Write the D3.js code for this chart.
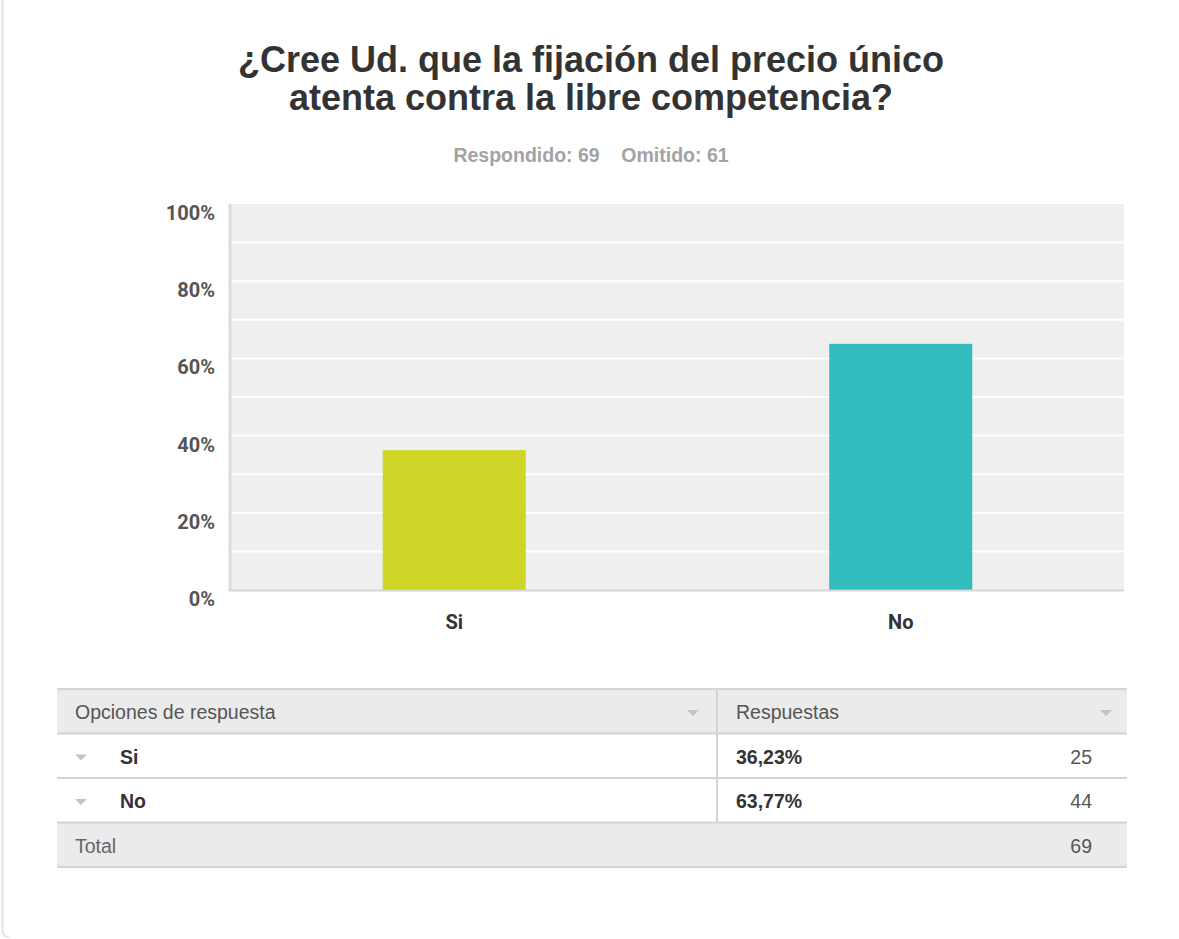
<!DOCTYPE html>
<html>
<head>
<meta charset="utf-8">
<script src="https://cdn.jsdelivr.net/npm/d3@7"></script>
<style>
  html, body { margin: 0; padding: 0; background: #fff; }
  svg { display: block; font-family: "Liberation Sans", Arial, sans-serif; }
</style>
</head>
<body>
<svg id="chart" width="1179" height="939"></svg>
<script>
const titleLines = ["¿Cree Ud. que la fijación del precio único", "atenta contra la libre competencia?"];
const answered = 69;
const skipped = 61;
const categories = ["Si", "No"];
const percents = [36.23, 63.77];
const counts = [25, 44];
const percentLabels = ["36,23%", "63,77%"];
const barColors = ["#cfd527", "#33bcbd"];
const yTicks = [0, 20, 40, 60, 80, 100];
const gridValues = [10, 20, 30, 40, 50, 60, 70, 80, 90];
const tableHeaders = ["Opciones de respuesta", "Respuestas"];
const totalLabel = "Total";

const svg = d3.select("#chart");

// card left border
svg.append("path")
  .attr("d", "M2.5,0 L2.5,930 Q2.5,937 9,937")
  .attr("fill", "none").attr("stroke", "#e3e3e3").attr("stroke-width", 2);

// title
const title = svg.append("text").attr("text-anchor", "middle")
  .attr("font-size", 36).attr("font-weight", "bold").attr("fill", "#333");
titleLines.forEach((t, i) => {
  title.append("tspan").attr("x", 591).attr("y", 72 + i * 38).text(t);
});

svg.append("text").attr("x", 591).attr("y", 162).attr("text-anchor", "middle")
  .attr("font-size", 19.5).attr("font-weight", "bold").attr("fill", "#a3a3a3")
  .attr("xml:space", "preserve")
  .text(`Respondido: ${answered}    Omitido: ${skipped}`);

// plot
const plot = { left: 231, right: 1124, top: 204, bottom: 590 };
const x = d3.scaleBand().domain(categories).range([plot.left, plot.right]).paddingInner(0).paddingOuter(0);
const y = d3.scaleLinear().domain([0, 100]).range([plot.bottom, plot.top]);
const barW = 143;

svg.append("rect").attr("x", plot.left).attr("y", plot.top)
  .attr("width", plot.right - plot.left).attr("height", plot.bottom - plot.top)
  .attr("fill", "#efefef");

svg.append("g").selectAll("line").data(gridValues).join("line")
  .attr("x1", plot.left).attr("x2", plot.right)
  .attr("y1", d => y(d)).attr("y2", d => y(d))
  .attr("stroke", "#ffffff").attr("stroke-width", 2);

svg.append("g").selectAll("rect").data(categories).join("rect")
  .attr("x", d => x(d) + x.bandwidth() / 2 - barW / 2)
  .attr("width", barW)
  .attr("y", (d, i) => y(percents[i]))
  .attr("height", (d, i) => y(0) - y(percents[i]))
  .attr("fill", (d, i) => barColors[i]);

// axes lines
svg.append("line").attr("x1", plot.left - 1).attr("x2", plot.left - 1)
  .attr("y1", plot.top).attr("y2", plot.bottom + 1)
  .attr("stroke", "#dcdcdc").attr("stroke-width", 3);
svg.append("line").attr("x1", plot.left - 2).attr("x2", plot.right)
  .attr("y1", plot.bottom + 0.5).attr("y2", plot.bottom + 0.5)
  .attr("stroke", "#d6d6d6").attr("stroke-width", 2);

// y axis labels
const yAxis = d3.axisLeft(y).tickValues(yTicks).tickFormat(d => d + "%").tickSize(0).tickPadding(0);
const ya = svg.append("g").attr("transform", `translate(215,9)`).call(yAxis);
ya.select(".domain").remove();
ya.selectAll("text").attr("font-size", 20).attr("font-weight", "bold")
  .attr("fill", "#555").attr("font-family", "Roboto, 'Liberation Sans', Arial, sans-serif");

// x axis labels
const xAxis = d3.axisBottom(x).tickSize(0).tickPadding(0);
const xa = svg.append("g").attr("transform", `translate(0,${plot.bottom + 25})`).call(xAxis);
xa.select(".domain").remove();
xa.selectAll("text").attr("font-size", 20).attr("font-weight", "bold")
  .attr("fill", "#333").attr("font-family", "Roboto, 'Liberation Sans', Arial, sans-serif");

// table
const T = { left: 57, right: 1127, mid: 717, top: 689, rowH: 44.5 };
const rowY = i => T.top + i * T.rowH;
const tg = svg.append("g");
tg.append("rect").attr("x", T.left).attr("y", rowY(0)).attr("width", T.right - T.left).attr("height", T.rowH).attr("fill", "#ebebeb");
tg.append("rect").attr("x", T.left).attr("y", rowY(3)).attr("width", T.right - T.left).attr("height", T.rowH).attr("fill", "#ebebeb");
[0, 1, 2, 3, 4].forEach(i => {
  tg.append("line").attr("x1", T.left).attr("x2", T.right)
    .attr("y1", rowY(i)).attr("y2", rowY(i))
    .attr("stroke", "#d4d4d4").attr("stroke-width", 2);
});
tg.append("line").attr("x1", T.mid).attr("x2", T.mid).attr("y1", rowY(0)).attr("y2", rowY(3))
  .attr("stroke", "#d4d4d4").attr("stroke-width", 2);

const caret = (cx, cy, color) => tg.append("path")
  .attr("d", `M${cx - 6},${cy - 3} L${cx + 6},${cy - 3} L${cx},${cy + 3} Z`).attr("fill", color);

const tfs = 19.5;
tableHeaders.forEach((h, i) => {
  tg.append("text").attr("x", i === 0 ? 75 : 736).attr("y", rowY(0) + 30)
    .attr("font-size", tfs).attr("fill", "#555").text(h);
});
caret(693, rowY(0) + 24, "#c4c4c4");
caret(1106, rowY(0) + 24, "#c4c4c4");

categories.forEach((c, i) => {
  const yy = rowY(i + 1);
  caret(81, yy + 24, "#c4c4c4");
  tg.append("text").attr("x", 120).attr("y", yy + 30).attr("font-size", tfs)
    .attr("font-weight", "bold").attr("fill", "#333").text(c);
  tg.append("text").attr("x", 736).attr("y", yy + 30).attr("font-size", tfs)
    .attr("font-weight", "bold").attr("fill", "#333").text(percentLabels[i]);
  tg.append("text").attr("x", 1092).attr("y", yy + 30).attr("text-anchor", "end")
    .attr("font-size", tfs).attr("fill", "#555").text(counts[i]);
});
tg.append("text").attr("x", 75).attr("y", rowY(3) + 30).attr("font-size", tfs)
  .attr("fill", "#666").text(totalLabel);
tg.append("text").attr("x", 1092).attr("y", rowY(3) + 30).attr("text-anchor", "end")
  .attr("font-size", tfs).attr("fill", "#555").text(d3.sum(counts));
</script>
</body>
</html>
